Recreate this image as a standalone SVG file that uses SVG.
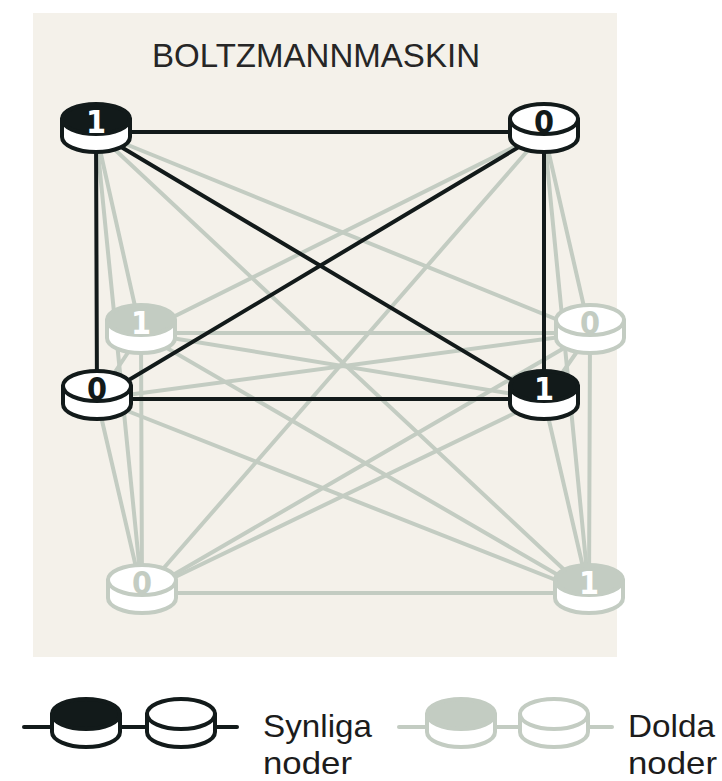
<svg xmlns="http://www.w3.org/2000/svg" width="722" height="781" viewBox="0 0 722 781">
<style>
.bk{stroke:#121a1a;stroke-width:4;fill:none;stroke-linecap:round}
.gr{stroke:#c3ccc2;stroke-width:4;fill:none;stroke-linecap:round}
.num{font-family:"DejaVu Sans Condensed","DejaVu Sans","Liberation Sans",sans-serif;font-weight:bold;font-size:32px;text-anchor:middle}
.lbl{font-family:"Liberation Sans","DejaVu Sans",sans-serif;font-size:32px;fill:#1c1c1c}
</style>
<defs>
<g id="pvb">
<path d="M-34 0 L-34 18 A34 15 0 0 0 34 18 L34 0 Z" fill="#fff" stroke="#121a1a" stroke-width="4" stroke-linejoin="round"/>
<ellipse cx="0" cy="0" rx="34" ry="15" fill="#121a1a" stroke="#121a1a" stroke-width="4"/>
</g>
<g id="pvw">
<path d="M-34 0 L-34 18 A34 15 0 0 0 34 18 L34 0 Z" fill="#fff" stroke="#121a1a" stroke-width="4" stroke-linejoin="round"/>
<ellipse cx="0" cy="0" rx="34" ry="15" fill="#fff" stroke="#121a1a" stroke-width="4"/>
</g>
<g id="phg">
<path d="M-34 0 L-34 18 A34 15 0 0 0 34 18 L34 0 Z" fill="#fff" stroke="#c3ccc2" stroke-width="4" stroke-linejoin="round"/>
<ellipse cx="0" cy="0" rx="34" ry="15" fill="#c3ccc2" stroke="#c3ccc2" stroke-width="4"/>
</g>
<g id="phw">
<path d="M-34 0 L-34 18 A34 15 0 0 0 34 18 L34 0 Z" fill="#fff" stroke="#c3ccc2" stroke-width="4" stroke-linejoin="round"/>
<ellipse cx="0" cy="0" rx="34" ry="15" fill="#fff" stroke="#c3ccc2" stroke-width="4"/>
</g>
</defs>
<rect x="33" y="13" width="584" height="644" fill="#f4f1ea"/>
<text x="152" y="67" font-family="Liberation Sans, DejaVu Sans, sans-serif" font-size="33" fill="#262626" textLength="328" lengthAdjust="spacingAndGlyphs">BOLTZMANNMASKIN</text>
<g id="connectors">
<g class="gr">
<line x1="96" y1="132" x2="141" y2="333"/>
<line x1="96" y1="132" x2="590" y2="333"/>
<line x1="96" y1="132" x2="142" y2="593"/>
<line x1="96" y1="132" x2="589" y2="593"/>
<line x1="544" y1="132" x2="141" y2="333"/>
<line x1="544" y1="132" x2="590" y2="333"/>
<line x1="544" y1="132" x2="142" y2="593"/>
<line x1="544" y1="132" x2="589" y2="593"/>
<line x1="97" y1="399" x2="141" y2="333"/>
<line x1="97" y1="399" x2="590" y2="333"/>
<line x1="97" y1="399" x2="142" y2="593"/>
<line x1="97" y1="399" x2="589" y2="593"/>
<line x1="544" y1="399" x2="141" y2="333"/>
<line x1="544" y1="399" x2="590" y2="333"/>
<line x1="544" y1="399" x2="142" y2="593"/>
<line x1="544" y1="399" x2="589" y2="593"/>
<line x1="141" y1="333" x2="590" y2="333"/>
<line x1="141" y1="333" x2="142" y2="593"/>
<line x1="141" y1="333" x2="589" y2="593"/>
<line x1="590" y1="333" x2="142" y2="593"/>
<line x1="590" y1="333" x2="589" y2="593"/>
<line x1="142" y1="593" x2="589" y2="593"/>
</g>
</g>
<g id="node-h1"><use href="#phg" x="141" y="320"/><text class="num" x="141" y="334" fill="#fff">1</text></g>
<g id="node-h2"><use href="#phw" x="590" y="320"/><text class="num" x="590" y="334" fill="#c3ccc2">0</text></g>
<g id="node-h3"><use href="#phw" x="142" y="580"/><text class="num" x="142" y="594" fill="#c3ccc2">0</text></g>
<g id="node-h4"><use href="#phg" x="589" y="580"/><text class="num" x="589" y="594" fill="#fff">1</text></g>
<g id="connectors-visible">
<g class="bk">
<line x1="96" y1="132" x2="544" y2="132"/>
<line x1="96" y1="132" x2="97" y2="399"/>
<line x1="96" y1="132" x2="544" y2="399"/>
<line x1="544" y1="132" x2="97" y2="399"/>
<line x1="544" y1="132" x2="544" y2="399"/>
<line x1="97" y1="399" x2="544" y2="399"/>
</g>
</g>
<g id="node-v1"><use href="#pvb" x="96" y="119"/><text class="num" x="96" y="133" fill="#fff">1</text></g>
<g id="node-v2"><use href="#pvw" x="544" y="119"/><text class="num" x="544" y="133" fill="#121a1a">0</text></g>
<g id="node-v3"><use href="#pvw" x="97" y="386"/><text class="num" x="97" y="400" fill="#121a1a">0</text></g>
<g id="node-v4"><use href="#pvb" x="544" y="386"/><text class="num" x="544" y="400" fill="#fff">1</text></g>
<g id="legend-visible">
<line class="bk" x1="24" y1="727" x2="237" y2="727"/>
<use href="#pvb" x="86" y="714"/>
<use href="#pvw" x="181" y="714"/>
<text class="lbl" x="263" y="737" textLength="109" lengthAdjust="spacingAndGlyphs">Synliga</text>
<text class="lbl" x="263" y="774" textLength="89" lengthAdjust="spacingAndGlyphs">noder</text>
</g>
<g id="legend-hidden">
<line class="gr" x1="399" y1="727" x2="612" y2="727"/>
<use href="#phg" x="461" y="714"/>
<use href="#phw" x="554" y="714"/>
<text class="lbl" x="628" y="737" textLength="87" lengthAdjust="spacingAndGlyphs">Dolda</text>
<text class="lbl" x="628" y="774" textLength="89" lengthAdjust="spacingAndGlyphs">noder</text>
</g>
</svg>
